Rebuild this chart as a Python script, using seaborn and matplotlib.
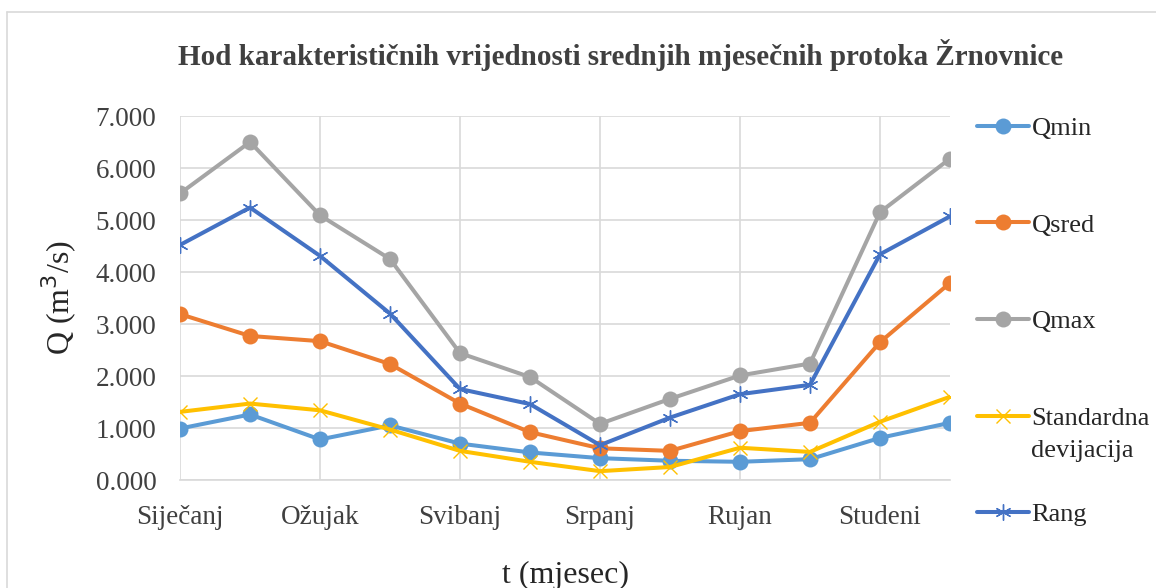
import seaborn as sns
import matplotlib.pyplot as plt
import matplotlib.ticker as mticker
import pandas as pd

# mjeseci (os x)
mjeseci = ['Siječanj', 'Veljača', 'Ožujak', 'Travanj', 'Svibanj', 'Lipanj',
           'Srpanj', 'Kolovoz', 'Rujan', 'Listopad', 'Studeni', 'Prosinac']

# vrijednosti ocitane s grafa (m3/s)
qmin = [0.99, 1.26, 0.78, 1.05, 0.70, 0.53, 0.42, 0.37, 0.35, 0.40, 0.81, 1.10]
qsred = [3.19, 2.77, 2.67, 2.23, 1.47, 0.92, 0.61, 0.56, 0.94, 1.10, 2.65, 3.79]
qmax = [5.51, 6.50, 5.09, 4.25, 2.44, 1.98, 1.08, 1.56, 2.01, 2.24, 5.15, 6.18]
std_dev = [1.31, 1.47, 1.34, 0.97, 0.56, 0.35, 0.17, 0.25, 0.62, 0.54, 1.12, 1.60]
rang = [4.52, 5.24, 4.31, 3.20, 1.75, 1.46, 0.67, 1.20, 1.65, 1.83, 4.34, 5.07]

y_ticks = [0, 1, 2, 3, 4, 5, 6, 7]

sns.set_style("white")
plt.rcParams['font.family'] = ['Liberation Serif', 'DejaVu Serif']

df = pd.DataFrame({'mj': range(12), 'Qmin': qmin, 'Qsred': qsred, 'Qmax': qmax,
                   'Standardna': std_dev, 'Rang': rang})

serije = [
    ('Qmin', '#5B9BD5', 'o', dict(markersize=11.5, markeredgewidth=0)),
    ('Qsred', '#ED7D31', 'o', dict(markersize=11.5, markeredgewidth=0)),
    ('Qmax', '#A5A5A5', 'o', dict(markersize=11.5, markeredgewidth=0)),
    ('Standardna', '#FFC000', 'x', dict(markersize=10.5, markeredgewidth=1.0)),
    ('Rang', '#4472C4', (6, 2, 0), dict(markersize=11.5, markeredgewidth=1.0)),
]

fig = plt.figure(figsize=(11.56, 5.88), dpi=100)
ax = fig.add_axes([180 / 1156, 1 - 480 / 588, 770 / 1156, 364 / 588])

for ime, boja, mk, kw in serije:
    sns.lineplot(x='mj', y=ime, data=df, ax=ax, color=boja, marker=mk,
                 linewidth=2.9, label=ime, markeredgecolor=boja, **kw)

ax.set_xlim(0, 11)
ax.set_ylim(0, 7)
ax.set_yticks(y_ticks)
ax.yaxis.set_major_formatter(mticker.FormatStrFormatter('%.3f'))
ax.set_xticks(range(0, 12, 2))
ax.set_xticklabels(mjeseci[::2])
ax.tick_params(axis='both', length=0, labelsize=19.5, labelcolor='#404040')
ax.tick_params(axis='y', pad=17)
ax.tick_params(axis='x', pad=18)
ax.grid(True, color='#D9D9D9', linewidth=1.2)
ax.set_axisbelow(True)
for s in ['top', 'right', 'left']:
    ax.spines[s].set_visible(False)
ax.spines['bottom'].set_color('#D9D9D9')
ax.spines['bottom'].set_linewidth(1.2)

ax.set_xlabel('t (mjesec)', fontsize=23, labelpad=22)
ax.set_ylabel('Q (m$^3$/s)', fontsize=23, labelpad=12)

fig.text(0.537, 1 - 55 / 588, 'Hod karakterističnih vrijednosti srednjih mjesečnih protoka Žrnovnice',
         ha='center', va='center', fontsize=21, fontweight='bold', color='#404040')

handles, labels = ax.get_legend_handles_labels()
ax.get_legend().remove()
leg = fig.legend(handles, labels, loc='upper left', bbox_to_anchor=(966 / 1156, 1 - 106 / 588),
                 frameon=False, fontsize=19, handlelength=2.0, handletextpad=0.08,
                 labelspacing=2.77, borderaxespad=0)

# drugi red oznake standardne devijacije
fig.canvas.draw()
bb = leg.get_texts()[3].get_window_extent()
fig.text(bb.x0 / 1156, (bb.y0 - 32) / 588, 'devijacija', fontsize=19, ha='left', va='bottom')

# okvir grafa (gore i lijevo)
fig.add_artist(plt.Line2D([7 / 1156, 1.0], [1 - 11.5 / 588] * 2, color='#D9D9D9', linewidth=1.2))
fig.add_artist(plt.Line2D([7 / 1156] * 2, [0, 1 - 11.5 / 588], color='#D9D9D9', linewidth=1.2))

plt.savefig('out.png', dpi=100)
